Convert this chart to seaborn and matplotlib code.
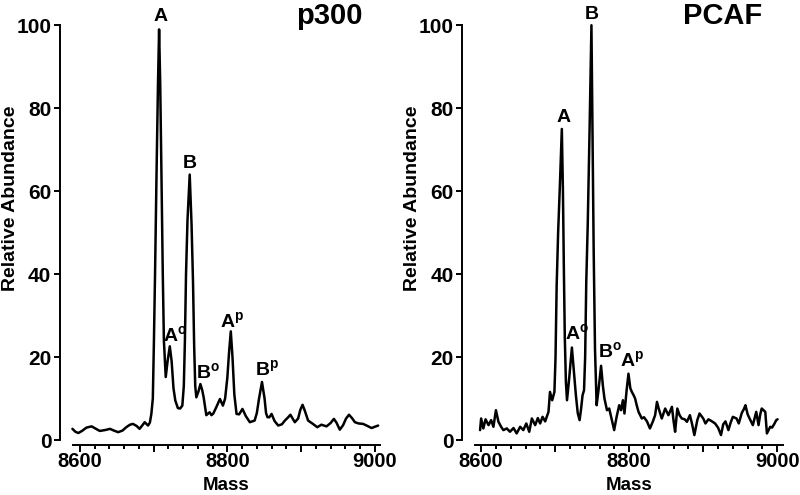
import matplotlib
matplotlib.use("Agg")
import matplotlib.pyplot as plt
from matplotlib.ticker import MultipleLocator
import seaborn as sns

# p300 spectrum (mass, relative abundance)
p300_mass = [8590, 8594, 8598, 8603, 8609, 8616, 8621, 8627, 8634, 8641, 8646, 8652,
             8658, 8663, 8668, 8672, 8677, 8681, 8685, 8688, 8692.5, 8695, 8697, 8699,
             8700.5, 8702, 8704, 8706, 8707.5, 8709, 8711, 8712.5, 8714, 8716.5, 8719,
             8722, 8724.5, 8727, 8729.5, 8733, 8736, 8739, 8741, 8742.5, 8744, 8746,
             8749, 8751.5, 8753.5, 8755, 8756.5, 8758, 8761, 8763.5, 8766, 8768, 8771.5,
             8774, 8776, 8778.5, 8781, 8785, 8790, 8794, 8797, 8800, 8802.5, 8804.7,
             8807, 8809.5, 8812.5, 8816, 8820.5, 8825, 8830.5, 8837, 8840, 8843, 8847,
             8850.5, 8852.5, 8854.5, 8857, 8860, 8864, 8869, 8874, 8878, 8882, 8885.5,
             8891.5, 8896, 8899, 8902, 8905, 8909.5, 8916, 8922, 8927.5, 8934.5, 8940,
             8944.5, 8948, 8952.5, 8957, 8961, 8965, 8969, 8973, 8978, 8984, 8990,
             8995.5, 9000, 9004.5]
p300_abund = [2.7, 2.0, 1.7, 2.2, 3.0, 3.3, 2.8, 2.2, 2.4, 2.7, 2.3, 1.9,
              2.3, 3.1, 3.7, 3.9, 3.4, 2.7, 3.6, 4.3, 3.5, 4.2, 6.3, 10,
              24, 40, 64, 86, 99, 86, 60, 40, 24, 15.2, 19,
              22.6, 19, 12.5, 9.5, 7.7, 7.6, 8.3, 13, 24, 40, 53,
              64, 52, 38, 23, 13, 10.3, 11.8, 13.5, 12, 10.2, 6.0,
              6.4, 6.7, 6.0, 6.4, 7.9, 9.9, 8.3, 10, 15, 21.5, 26.2,
              20, 11, 6.3, 6.2, 7.5, 5.8, 4.3, 4.7, 6.5, 10, 14,
              10, 6.5, 5.5, 5.5, 6.3, 4.6, 3.5, 3.8, 4.7, 5.4, 6.1,
              4.3, 5.2, 7.3, 8.5, 7.1, 4.7, 3.9, 3.1, 3.7, 3.3, 4.1,
              5.1, 4.2, 2.5, 3.6, 5.2, 6.1, 5.3, 4.3, 4.0, 3.9, 3.4,
              2.9, 3.2, 3.5]

# PCAF spectrum
pcaf_mass = [8598.6, 8600, 8603, 8606, 8610, 8613.5, 8616.6, 8620, 8623.4, 8627, 8630,
             8634.7, 8639, 8643.7, 8648, 8652.7, 8657, 8661, 8665, 8668.5, 8673, 8676.6,
             8679.7, 8683, 8686.5, 8691, 8693, 8696, 8699, 8700.5, 8702, 8704, 8706.5,
             8709, 8710.5, 8711.7, 8713, 8714.5, 8716, 8719, 8722.6, 8725.5, 8728,
             8730.5, 8733, 8735, 8737, 8739, 8740.5, 8742, 8744, 8746.5, 8749, 8750.5,
             8752, 8753.8, 8756, 8758.5, 8762, 8764.5, 8766.6, 8770, 8773, 8776.6,
             8779.7, 8783, 8786.5, 8789, 8791.5, 8793.6, 8796.5, 8799, 8801.5, 8803.6,
             8806, 8808, 8810, 8812.6, 8817, 8820, 8824, 8828, 8832, 8835, 8837.5,
             8840, 8844, 8848.6, 8853, 8857.7, 8860, 8862, 8865, 8868, 8871, 8875,
             8878, 8882, 8885, 8888, 8892, 8895, 8900, 8903, 8907, 8911, 8916, 8920,
             8924, 8927, 8930, 8934, 8937, 8940, 8945, 8948, 8952, 8955, 8957, 8960,
             8962.6, 8967, 8971.6, 8974.7, 8977, 8979, 8983.8, 8986, 8990.5, 8993,
             8996, 8998.6, 9000.4]
pcaf_abund = [2.4, 5.2, 2.8, 5.0, 3.6, 4.8, 3.2, 7.2, 4.4, 3.2, 2.4,
              2.8, 2.0, 2.9, 1.6, 3.2, 2.4, 4.0, 2.0, 5.2, 3.6, 5.3,
              4.0, 5.6, 4.5, 6.8, 11.6, 9.6, 11.6, 20, 37, 50, 62,
              75, 60, 42, 25, 14, 9.6, 15, 22.3, 16, 10.8,
              6.5, 4.8, 7.5, 10.8, 12, 20, 38, 52, 75, 100, 72,
              46, 22, 8.4, 12, 17.9, 13, 10, 7.2, 7.6, 4.8,
              2.4, 5.6, 8.4, 7.2, 9.6, 6.4, 12, 16, 12.5, 11.6,
              10.8, 10, 8.5, 6.8, 5.2, 5.5, 4.5, 2.8, 4.5, 6, 9.2,
              7.5, 5.2, 7.6, 6, 8, 4.5, 2.0, 7.6, 6.0, 5.2, 5,
              4.4, 6, 3.8, 1.2, 4.8, 6.4, 5.2, 4.0, 5, 4.6, 4.0, 3.0,
              1.2, 3.8, 4.5, 2.4, 4.2, 5.6, 5.2, 4, 6.5, 7.5, 8.4, 6.2,
              5.2, 3.6, 6.8, 3.6, 6.2, 7.6, 6.8, 1.6, 3.2, 3.0,
              3.9, 4.8, 5]

# peak labels: (text, mass, abundance)
p300_labels = [("A", 8710, 102), ("B", 8749, 66.7), (r"A$^{\mathbf{o}}$", 8729, 25.1),
               (r"B$^{\mathbf{o}}$", 8773.6, 16.3), (r"A$^{\mathbf{p}}$", 8806.8, 28.5),
               (r"B$^{\mathbf{p}}$", 8854, 17)]
pcaf_labels = [("A", 8711, 77.8), ("B", 8750, 102.6), (r"A$^{\mathbf{o}}$", 8729.7, 25.6),
               (r"B$^{\mathbf{o}}$", 8773.6, 21.3), (r"A$^{\mathbf{p}}$", 8803.4, 19.1)]

sns.set_style("ticks")
plt.rcParams['font.family'] = ['Liberation Sans', 'DejaVu Sans']
plt.rcParams['font.weight'] = 'bold'
plt.rcParams['mathtext.fontset'] = 'custom'
plt.rcParams['mathtext.rm'] = 'Liberation Sans:bold'
plt.rcParams['mathtext.bf'] = 'Liberation Sans:bold'
for key in ['text.color', 'axes.labelcolor', 'xtick.color', 'ytick.color', 'axes.edgecolor']:
    plt.rcParams[key] = 'black'

fig = plt.figure(figsize=(8, 4.95), dpi=100)
ax1 = fig.add_axes([0.091, 0.111, 0.384, 0.838])
ax2 = fig.add_axes([0.594, 0.111, 0.385, 0.838])

panels = [
    (ax1, p300_mass, p300_abund, p300_labels, "p300", 8939, (8590.5, 9007)),
    (ax2, pcaf_mass, pcaf_abund, pcaf_labels, "PCAF", 8926, (8592, 9008)),
]

for ax, mass, abund, labels, title, title_x, xlim in panels:
    sns.lineplot(x=mass, y=abund, ax=ax, color='black', linewidth=1.8,
                 estimator=None, clip_on=False)
    ax.set_xlim(*xlim)
    ax.set_ylim(0, 100)
    ax.set_xticks([8600, 8700, 8800, 8900, 9000])
    ax.set_xticklabels(['8600', '', '8800', '', '9000'])
    ax.xaxis.set_minor_locator(MultipleLocator(20))
    ax.set_yticks([0, 20, 40, 60, 80, 100])
    ax.tick_params(axis='x', which='major', length=5, width=1.4, pad=0, labelsize=14.5)
    ax.tick_params(axis='x', which='minor', length=3, width=1.4)
    ax.tick_params(axis='y', length=4, width=1.4, pad=2, labelsize=15)
    for lab in ax.get_xticklabels() + ax.get_yticklabels():
        lab.set_fontweight('bold')
    sns.despine(ax=ax, offset={'left': 9.5, 'bottom': 3.5})
    ax.spines['left'].set_linewidth(1.4)
    ax.spines['bottom'].set_linewidth(1.4)
    ax.set_ylabel('Relative Abundance', fontsize=14, fontweight='bold')
    ax.yaxis.set_label_coords(-0.175, 0.583)
    ax.set_xlabel('Mass', fontsize=13.5, fontweight='bold', va='baseline')
    ax.xaxis.set_label_coords(0.5, -0.1205)
    for text, x, y in labels:
        ax.text(x, y, text, ha='center', va='center', fontsize=14,
                fontweight='bold', clip_on=False)
    ax.text(title_x, 102.3, title, ha='center', va='center', fontsize=21,
            fontweight='bold', clip_on=False)

fig.savefig('out.png', dpi=100)
plt.close()
